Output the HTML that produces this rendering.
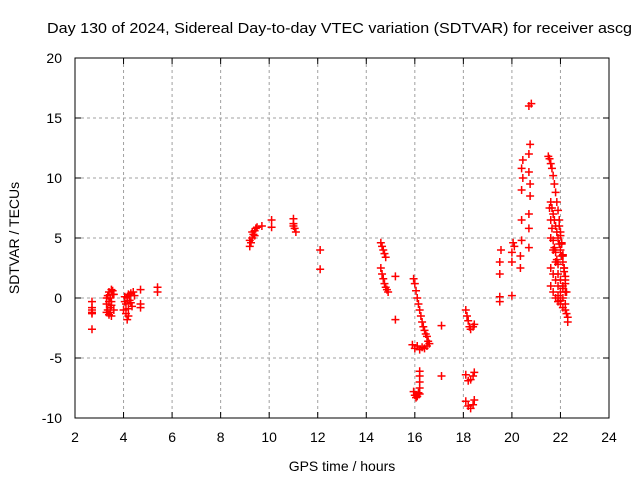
<!DOCTYPE html>
<html><head><meta charset="utf-8"><style>
body{margin:0;background:#fff;}
svg text{font-family:"Liberation Sans",sans-serif;font-size:14px;fill:#000;}
</style></head><body>
<svg id="c" width="640" height="480">
<rect width="640" height="480" fill="#fff"/>
<text x="47" y="33" textLength="585" lengthAdjust="spacingAndGlyphs" style="font-size:15px">Day 130 of 2024, Sidereal Day-to-day VTEC variation (SDTVAR) for receiver ascg</text>
<text x="342" y="471" text-anchor="middle">GPS time / hours</text>
<text transform="translate(19,238) rotate(-90)" text-anchor="middle">SDTVAR / TECUs</text>
<g id="grid"></g><g id="pts"></g>
<rect x="75" y="58" width="534" height="360" fill="none" stroke="#000"/>
</svg>
<script>
const xTicks=[2,4,6,8,10,12,14,16,18,20,22,24];
const yTicks=[-10,-5,0,5,10,15,20];
const hours=[2.7,2.7,2.7,2.7,2.7,2.7,
3.3,3.3,3.35,3.4,3.4,3.45,3.5,3.5,3.55,3.6,3.35,3.45,3.5,3.4,3.55,3.3,3.45,3.6,3.5,
4.0,4.05,4.1,4.15,4.2,4.25,4.3,4.35,4.4,4.1,4.2,4.3,4.15,4.25,4.05,4.2,4.45,
4.7,4.7,4.7,5.4,5.4,
9.2,9.25,9.3,9.35,9.4,9.45,9.5,9.3,9.4,9.2,9.7,10.1,10.1,11.0,11.0,11.05,11.1,11.0,12.1,12.1,
14.6,14.65,14.7,14.75,14.8,14.6,14.65,14.7,14.75,14.8,14.85,14.9,15.2,15.2,
15.95,16.0,16.05,16.1,16.15,16.2,16.25,16.3,16.35,16.4,16.45,16.5,16.55,16.6,
15.9,16.0,16.1,16.2,16.3,16.4,16.5,16.2,16.2,16.2,16.2,16.2,15.95,16.0,16.05,16.1,16.15,
17.1,17.1,
18.1,18.15,18.2,18.25,18.3,18.4,18.45,18.1,18.2,18.3,18.4,18.45,18.1,18.2,18.3,18.4,18.45,
19.5,19.5,19.5,19.5,19.55,20.0,20.0,20.0,20.05,20.1,
20.35,20.35,20.4,20.4,20.4,20.45,20.45,20.4,20.7,20.7,20.7,20.75,20.75,20.7,20.7,20.75,20.7,20.8,
21.5,21.55,21.6,21.65,21.7,21.75,21.8,21.85,21.9,21.95,22.0,22.05,22.1,22.15,22.2,22.25,
21.6,21.65,21.7,21.75,21.8,21.85,21.9,21.95,22.0,22.05,22.1,22.15,
21.6,21.7,21.8,21.9,22.0,22.1,22.2,21.6,21.7,21.8,21.9,22.0,22.1,22.2,21.6,21.7,21.8,21.9,22.0,22.1,22.2,22.25,22.3,22.3,
21.55,21.6,21.65,21.7,21.75,21.8,21.85,21.9,21.95,22.0,22.05,22.1,22.15,22.2,21.9,22.0,22.1,22.2];
const sdtvar=[-0.3,-0.8,-1.0,-1.2,-1.3,-2.6,
-1.2,-0.5,0.2,-1.4,0.5,-0.8,0.7,-0.3,0.3,-1.0,-1.0,0.0,-1.5,-0.3,0.6,0.0,-1.2,0.3,-0.6,
-1.0,0.1,-0.5,-1.8,0.3,-0.2,0.4,-0.7,0.5,-1.3,-0.9,-0.4,0.0,0.2,-0.3,-1.5,0.2,
0.7,-0.5,-0.8,0.5,0.9,
4.3,4.6,5.0,5.3,5.6,5.8,5.9,5.5,5.2,4.8,6.0,6.5,5.9,6.6,6.2,5.8,5.5,6.0,4.0,2.4,
4.6,4.3,4.0,3.7,3.4,2.5,2.0,1.6,1.2,0.9,0.7,0.5,1.8,-1.8,
1.6,1.2,0.6,0.0,-0.5,-1.0,-1.5,-2.0,-2.4,-2.7,-3.0,-3.2,-3.6,-3.8,
-3.9,-4.2,-4.0,-4.3,-4.1,-4.2,-4.0,-6.1,-6.5,-7.0,-7.5,-8.0,-7.8,-8.1,-8.3,-8.2,-7.9,
-2.3,-6.5,
-1.0,-1.5,-1.9,-2.4,-2.6,-2.4,-2.2,-6.4,-6.9,-6.8,-6.5,-6.2,-8.6,-9.0,-9.2,-8.9,-8.5,
-0.3,0.1,2.0,3.0,4.0,0.2,3.0,3.8,4.6,4.3,
2.5,3.5,4.8,6.5,9.0,10.0,11.5,10.8,4.2,5.8,7.0,8.5,9.5,10.5,12.0,12.8,16.0,16.2,
11.8,11.6,11.2,10.8,10.2,9.5,8.8,8.0,7.3,6.5,5.5,4.5,3.5,2.5,1.5,0.5,
8.0,7.5,7.0,6.5,6.0,5.5,5.0,4.5,4.0,3.5,3.0,2.5,
5.0,4.0,3.0,2.0,1.5,1.0,0.5,2.5,2.0,1.5,1.0,0.5,0.0,-0.5,1.0,0.5,0.0,-0.3,-0.5,-0.8,-1.0,-1.3,-1.6,-2.0,
7.5,6.5,5.8,4.8,4.2,3.8,3.2,2.8,6.0,5.2,4.6,3.6,2.2,1.2,0.2,-0.2,0.8,1.8];
const X=h=>75+(h-2)*534/22, Y=v=>58+(20-v)*12;
const ns="http://www.w3.org/2000/svg";
const g=document.getElementById('grid'), p=document.getElementById('pts');
function mk(t,a,par){const e=document.createElementNS(ns,t);for(const k in a)e.setAttribute(k,a[k]);par.appendChild(e);return e;}
xTicks.forEach((t,i)=>{const x=X(t);
 if(i>0&&i<xTicks.length-1){const l=mk('line',{x1:x,x2:x,y1:58,y2:418,stroke:'#a0a0a0','stroke-dasharray':'3,3'},g);
 
 }
 mk('line',{x1:x,x2:x,y1:418,y2:412,stroke:'#000'},g);mk('line',{x1:x,x2:x,y1:58,y2:64,stroke:'#000'},g);
 const tx=mk('text',{x:x,y:442,'text-anchor':'middle'},g);tx.textContent=t;
 
 });
yTicks.forEach((t,i)=>{const y=Y(t);
 if(i>0&&i<yTicks.length-1){const l=mk('line',{x1:75,x2:609,y1:y,y2:y,stroke:'#a0a0a0','stroke-dasharray':'3,3'},g);
 
 }
 mk('line',{x1:75,x2:81,y1:y,y2:y,stroke:'#000'},g);mk('line',{x1:603,x2:609,y1:y,y2:y,stroke:'#000'},g);
 const tx=mk('text',{x:62,y:y+5,'text-anchor':'end'},g);tx.textContent=t;
 
 });
hours.forEach((h,i)=>{const x=X(h),y=Y(sdtvar[i]);
 const m=mk('path',{d:`M${x-4},${y}h8M${x},${y-4}v8`,stroke:'#f00','stroke-width':1.5},p);
 
 });
</script>
</body></html>
